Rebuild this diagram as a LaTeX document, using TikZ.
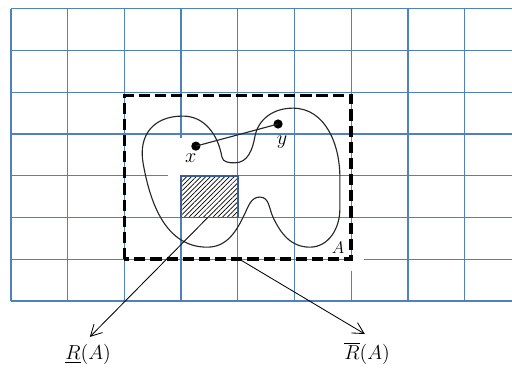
\documentclass[tikz,border=0pt]{standalone}
\usetikzlibrary{arrows.meta,patterns.meta}
\definecolor{gridblue}{HTML}{4F81BD}
\definecolor{boxblue}{HTML}{3A5F95}

\begin{document}
\begin{tikzpicture}[x=1.4175cm, y=1.04375cm, font=\Large,
  gridline/.style={draw=gridblue, line width=0.9pt},
  dashbox/.style={line width=2.6pt, dash pattern=on 8pt off 3.5pt},
  hatchbox/.style={draw=boxblue, line width=1.3pt,
    pattern={Lines[angle=45,distance=2.4pt,line width=0.5pt]}},
  curveline/.style={draw=black!85, line width=0.8pt},
  blackdot/.style={circle, fill=black, inner sep=0pt, minimum size=2.3mm},
  pointer/.style={line width=0.6pt, -{Straight Barb[length=2.8mm,width=3mm]}}]
  \useasboundingbox (-0.194,-1.605) rectangle (8.836,7.21);
  % --- grid ---
  \draw[gridline, xstep=1.4175cm, ystep=1.04375cm] (0,0) grid (8.836,7);
  \fill[white] (2.77,2.98) rectangle (3.02,3.9);
  \fill[white] (5.97,0.72) rectangle (6.23,1.02);
  % --- lower approximation and boundary ---
  \draw[hatchbox] (3,2) rectangle (4,3);
  \draw[dashbox] (2,1) rectangle (6,4.92);
  % --- set A ---
  \draw[curveline] (3.95,3.31) to[out=0,in=-100] (4.30,3.93)
    to[out=80,in=180] (4.97,4.62) to[out=0,in=90] (5.80,2.97)
    to[out=-90,in=90] (5.80,2.2) to[out=-90,in=0] (5.27,1.29)
    to[out=180,in=-65] (4.62,2.01) to[out=115,in=0] (4.39,2.49)
    to[out=180,in=65] (4.13,2.11) to[out=-115,in=0] (3.46,1.29)
    to[out=180,in=-80] (2.33,3.3) to[out=100,in=180,looseness=1.2] (3.03,4.43)
    to[out=0,in=100] (3.72,3.45) to[out=-80,in=180] cycle;
  \node[blackdot] (px) at (3.26,3.71) {};
  \node[blackdot] (py) at (4.71,4.24) {};
  \draw[curveline] (px.center) -- (py.center);
  \node (xlab) at (3.17,3.42) {$x$};
  \node (ylab) at (4.78,3.81) {$y$};
  \node[font=\large] (alab) at (5.77,1.27) {$A$};
  % --- arrows to the labels ---
  \coordinate (lowstart) at (3.47,2.0);
  \coordinate (lowtip) at (1.39,-0.86);
  \coordinate (uppstart) at (4.03,1.0);
  \coordinate (upptip) at (6.24,-0.79);
  \draw[pointer] (lowstart) -- (lowtip);
  \draw[pointer] (uppstart) -- (upptip);
  \node (lowlab) at (1.36,-1.29) {$\underline{R}(A)$};
  \node (upplab) at (6.28,-1.25) {$\overline{R}(A)$};
\end{tikzpicture}
\end{document}
